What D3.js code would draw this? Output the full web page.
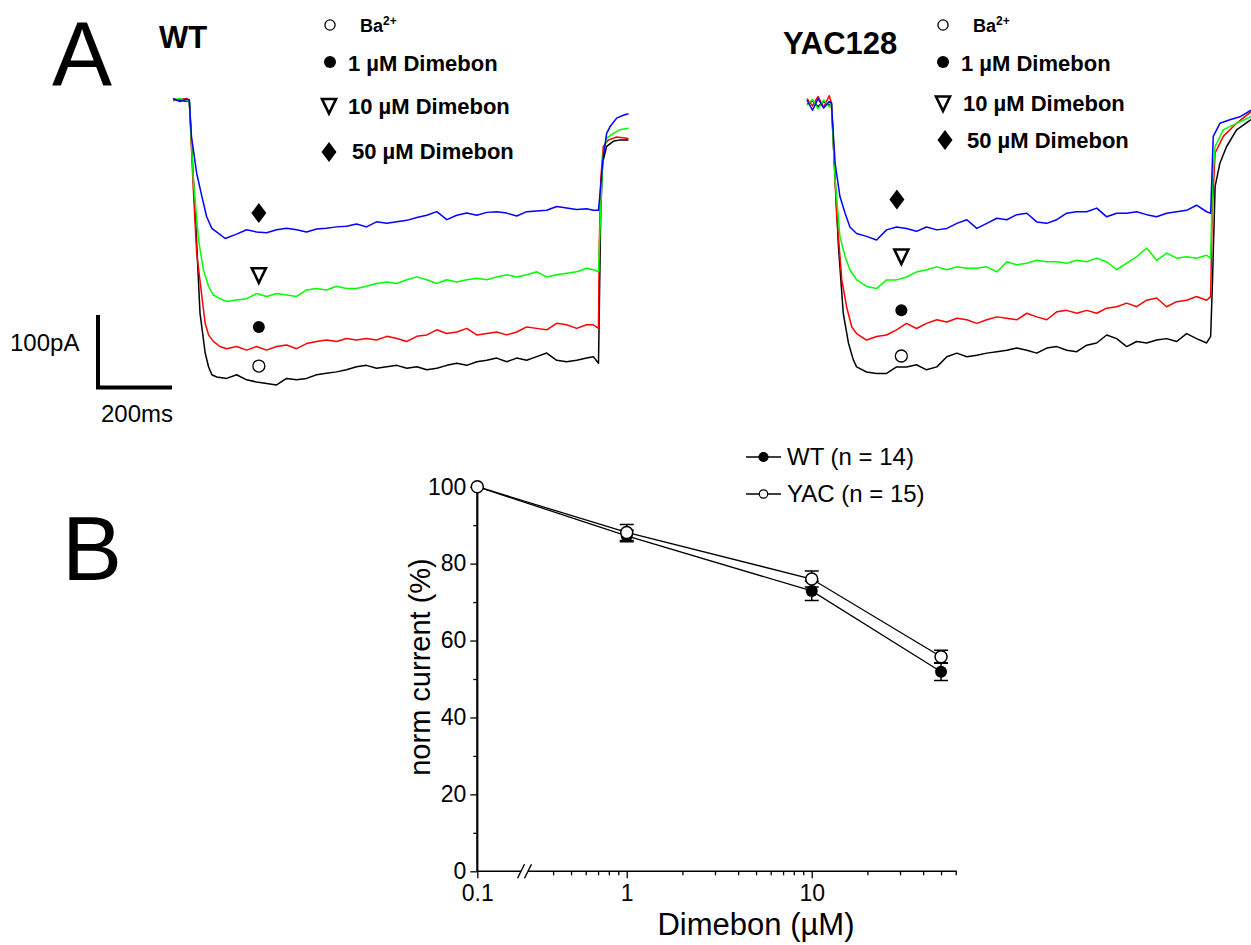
<!DOCTYPE html>
<html><head><meta charset="utf-8">
<script src="https://cdn.jsdelivr.net/npm/d3@7"></script>
<style>
body{margin:0;background:#fff;}
svg{display:block;font-family:"Liberation Sans",Arial,Helvetica,sans-serif;}
</style></head><body>
<svg id="fig" width="1251" height="945"></svg>
<script>
// ---------------- Panel A data (time in ms, current in pA, baseline = 0) ----------------
const wtPreT = [0, 19, 37, 44];
const wtGridT = [172,199,226,253,280,307,334,361,388,415,442,469,496,523,550,578,605,632,659,686,713,740,767,794,821,848,875,902,929,956,983,1010,1037,1064,1091,1118,1136,1150];

const wtBlueT = [...wtPreT, 50,64,78,91,105,123,141, ...wtGridT, 1154,1163,1172,1181,1199,1217,1231];
const wtBlueI = [2,-2,1,0, -51,-101,-133,-161,-177,-184,-191,
  -185,-179,-182,-183,-179,-177,-179,-182,-178,-177,-175,-174,-171,-175,-168,-170,-168,-166,-162,-159,-154,-165,-159,-156,-159,-155,-154,-156,-160,-154,-153,-152,-147,-149,-151,-150,-152,-152,
  -129,-78,-46,-37,-25,-21,-19];

const wtGreenT = [...wtPreT, 55,69,82,96,109,127,145, ...wtGridT, 1154,1159,1163,1172,1190,1208,1231];
const wtGreenI = [0,2,-1,0, -110,-193,-234,-257,-269,-274,-278,
  -276,-274,-267,-271,-267,-269,-271,-262,-260,-262,-257,-260,-260,-257,-253,-251,-253,-248,-244,-248,-253,-248,-251,-248,-246,-248,-244,-241,-244,-241,-237,-244,-241,-239,-237,-232,-234,-237,
  -179,-110,-74,-53,-46,-41,-39];

const wtRedT = [...wtPreT, 55,64,78,87,96,109,127,145, ...wtGridT, 1152,1156,1163,1177,1199,1231];
const wtRedI = [-1,1,2,0, -124,-211,-271,-308,-324,-333,-340,-343,
  -340,-345,-340,-345,-340,-338,-343,-336,-333,-331,-333,-329,-331,-329,-331,-326,-329,-333,-326,-324,-317,-322,-320,-315,-324,-322,-320,-324,-320,-313,-315,-317,-308,-310,-315,-310,-310,-315,
  -202,-110,-64,-55,-51,-53];

const wtBlackT = [...wtPreT, 60,73,87,96,105,118,145, ...wtGridT, 1152,1156,1161,1172,1190,1208,1231];
const wtBlackI = [1,0,-2,0, -156,-294,-349,-368,-379,-382,-384,
  -379,-386,-389,-391,-393,-384,-386,-384,-379,-377,-375,-372,-368,-366,-370,-368,-366,-370,-368,-372,-370,-366,-363,-366,-361,-359,-356,-361,-356,-359,-354,-349,-359,-361,-359,-356,-354,-363,
  -294,-156,-87,-64,-57,-55,-55];

const yacPreT = [0, 15, 30, 45, 60, 66];
const yacGridT = [134,161,188,215,242,269,296,323,351,378,405,432,459,486,513,540,567,594,621,648,675,702,729,756,783,810,837,864,891,918,945,972,999,1026,1053,1080,1091];

const yacBlueT = [...yacPreT, 76,89,103,116, ...yacGridT, 1094,1098,1116,1143,1170,1200];
const yacBlueI = [4,-10,6,-7,2,0, -83,-129,-152,-171,
  -180,-184,-189,-175,-171,-173,-177,-171,-175,-173,-166,-161,-173,-166,-159,-161,-154,-152,-164,-166,-161,-152,-150,-150,-145,-157,-152,-152,-150,-154,-157,-152,-150,-148,-141,-150,-152,
  -106,-46,-28,-23,-19,-10];

const yacGreenT = [...yacPreT, 76,89,103,116, ...yacGridT, 1096,1103,1125,1161,1200];
const yacGreenI = [-3,5,-8,4,-5,0, -106,-184,-212,-230,
  -244,-253,-256,-244,-244,-240,-233,-230,-226,-230,-226,-228,-228,-226,-233,-219,-223,-221,-217,-219,-219,-221,-217,-219,-214,-219,-230,-221,-212,-200,-217,-207,-214,-212,-214,-210,-214,
  -106,-60,-37,-28,-19];

const yacRedT = [...yacPreT, 80,94,107,121, ...yacGridT, 1095,1103,1125,1161,1200];
const yacRedI = [6,-4,9,-6,10,0, -152,-244,-281,-309,
  -318,-327,-322,-320,-313,-304,-311,-304,-299,-302,-297,-299,-304,-299,-295,-297,-299,-290,-295,-299,-288,-286,-290,-286,-290,-283,-281,-276,-281,-272,-269,-281,-274,-272,-267,-272,-267,
  -152,-69,-46,-28,-12];

const yacBlackT = [...yacPreT, 85,98,112,125, ...yacGridT, 1096,1103,1116,1134,1161,1200];
const yacBlackI = [-2,3,-5,2,-3,0, -198,-290,-331,-354,
  -364,-371,-373,-373,-364,-364,-361,-368,-364,-350,-345,-350,-348,-345,-343,-341,-338,-341,-345,-338,-336,-341,-343,-334,-331,-320,-325,-336,-329,-331,-327,-325,-329,-318,-325,-331,-322,
  -244,-115,-83,-60,-37,-23];

// condition labels / symbols (order: Ba, 1, 10, 50)
const conditionLabels = ["Ba", "1 µM Dimebon", "10 µM Dimebon", "50 µM Dimebon"];
const conditionSymbols = ["openCircle", "filledCircle", "triangle", "diamond"];
const wtMarkT = [232, 232, 232, 232];
const wtMarkI = [-367, -313, -241, -156];
const yacMarkT = [255, 255, 255, 243];
const yacMarkI = [-349, -286, -211, -133];

const scaleBarPA = 100;
const scaleBarMS = 200;

// ---------------- Panel B data ----------------
const conc = [0.1, 1, 10, 50];
const wtMean = [100, 87.2, 72.9, 51.9];
const wtErr = [0, 1.5, 2.5, 2.3];
const yacMean = [100, 88.1, 76.0, 55.8];
const yacErr = [0, 2.1, 2.1, 1.7];
const yTicksMajor = [0, 20, 40, 60, 80, 100];
const yTicksMinor = [10, 30, 50, 70, 90];
const xTicksMajor = [0.1, 1, 10];
const xTickLabels = ["0.1", "1", "10"];
const xTicksMinor = [0.4,0.5,0.6,0.7,0.8,0.9,2,3,4,5,6,7,8,9,20,30,40,50,60];
const seriesNames = ["WT (n = 14)", "YAC (n = 15)"];

// ---------------- Drawing ----------------
const svg = d3.select("#fig");
const pairs = (t, i) => t.map((d, k) => [d, i[k]]);

// scales for panel A
const wtX = d3.scaleLinear().domain([0, 1000]).range([173, 543]);
const wtY = d3.scaleLinear().domain([0, -100]).range([100, 172.5]);
const yacX = d3.scaleLinear().domain([0, 1000]).range([807, 1177]);
const yacY = d3.scaleLinear().domain([0, -100]).range([103, 175.5]);

function symbolPath(kind) {
  if (kind === "triangle") return "M-7,-6.5L7,-6.5L0,8Z";
  if (kind === "diamond") return "M0,-10L7.5,0L0,10L-7.5,0Z";
  return d3.symbol(d3.symbolCircle, 36 * Math.PI)();
}
function drawSymbol(g, kind, x, y, scale = 1) {
  const p = g.append("path").attr("d", symbolPath(kind))
    .attr("transform", `translate(${x},${y}) scale(${scale})`);
  if (kind === "openCircle") p.attr("fill", "#fff").attr("stroke", "#000").attr("stroke-width", 1.3 / scale);
  else if (kind === "triangle") p.attr("fill", "#fff").attr("stroke", "#000").attr("stroke-width", 2.6 / scale).attr("stroke-linejoin", "miter");
  else p.attr("fill", "#000");
  return p;
}

function drawTraces(xS, yS, traces) {
  const line = d3.line().x(d => xS(d[0])).y(d => yS(d[1]));
  const g = svg.append("g");
  traces.forEach(tr => {
    g.append("path").datum(pairs(tr.t, tr.i)).attr("d", line)
      .attr("fill", "none").attr("stroke", tr.c).attr("stroke-width", 1.5).attr("stroke-linejoin", "round");
  });
}
drawTraces(wtX, wtY, [
  {t: wtBlackT, i: wtBlackI, c: "#000000"},
  {t: wtRedT, i: wtRedI, c: "#ff0000"},
  {t: wtGreenT, i: wtGreenI, c: "#00ff00"},
  {t: wtBlueT, i: wtBlueI, c: "#0000ff"}
]);
drawTraces(yacX, yacY, [
  {t: yacBlackT, i: yacBlackI, c: "#000000"},
  {t: yacRedT, i: yacRedI, c: "#ff0000"},
  {t: yacGreenT, i: yacGreenI, c: "#00ff00"},
  {t: yacBlueT, i: yacBlueI, c: "#0000ff"}
]);

// trace markers
const mg = svg.append("g");
conditionSymbols.forEach((s, k) => {
  drawSymbol(mg, s, wtX(wtMarkT[k]), wtY(wtMarkI[k]));
  drawSymbol(mg, s, yacX(yacMarkT[k]), yacY(yacMarkI[k]));
});

// panel letters and titles
svg.append("text").attr("x", 52).attr("y", 85).attr("font-size", 90).text("A");
svg.append("text").attr("x", 62).attr("y", 580).attr("font-size", 90).text("B");
svg.append("text").attr("x", 159).attr("y", 48).attr("font-size", 31).attr("font-weight", "bold").text("WT");
svg.append("text").attr("x", 783).attr("y", 54).attr("font-size", 31).attr("font-weight", "bold").text("YAC128");

// legends panel A
function drawLegendA(mx, rowsY, textX, baseY) {
  const g = svg.append("g");
  conditionSymbols.forEach((s, k) => {
    drawSymbol(g, s, mx[k], rowsY[k], k === 0 ? 0.85 : 1);
    const t = g.append("text").attr("x", textX[k]).attr("y", baseY[k])
      .attr("font-weight", "bold").attr("font-size", k === 0 ? 18 : 22).text(conditionLabels[k]);
    if (k === 0) t.append("tspan").attr("font-size", 12).attr("dy", -7).text("2+");
  });
}
drawLegendA([330, 330, 329, 329], [25, 62, 105.5, 152], [360, 348, 348, 352], [31.5, 71, 114, 159]);
drawLegendA([943, 943, 943, 945], [25, 62, 103, 140], [973, 961, 963, 967], [31.5, 71, 111, 148]);

// scale bar
const sbx0 = 98, sby0 = 387.5;
const sbH = wtY(-scaleBarPA) - wtY(0);
const sbW = wtX(scaleBarMS) - wtX(0);
svg.append("path").attr("d", `M${sbx0},${sby0 - sbH}V${sby0}H${sbx0 + sbW}`)
  .attr("fill", "none").attr("stroke", "#000").attr("stroke-width", 4).attr("stroke-linecap", "butt");
svg.append("text").attr("x", 10).attr("y", 351).attr("font-size", 24).text(scaleBarPA + "pA");
svg.append("text").attr("x", 101).attr("y", 422).attr("font-size", 24).text(scaleBarMS + "ms");

// ---------------- Panel B ----------------
const bx = d3.scaleLog().domain([0.1, 0.3, 60]).range([477.3, 530, 955.7]);
const by = d3.scaleLinear().domain([0, 100]).range([871.3, 486.7]);
const axisFont = 23;

// y axis
const yAx = svg.append("g").attr("transform", `translate(${bx(0.1)},0)`);
yAx.call(d3.axisLeft(by).tickValues(yTicksMajor).tickSize(7).tickPadding(4).tickFormat(d3.format("d")));
yAx.select(".domain").attr("stroke-width", 2.2).attr("d", `M0,${by(100)}V${by(0)}`);
yAx.selectAll(".tick line").attr("stroke-width", 1.3);
yAx.selectAll("text").attr("font-size", axisFont).attr("font-family", null);
const yMin = svg.append("g").attr("transform", `translate(${bx(0.1)},0)`);
yMin.call(d3.axisLeft(by).tickValues(yTicksMinor).tickSize(4).tickFormat(""));
yMin.select(".domain").remove();
yMin.selectAll(".tick line").attr("stroke-width", 1.3);

// x axis
const xAx = svg.append("g").attr("transform", `translate(0,${by(0)})`);
xAx.call(d3.axisBottom(bx).tickValues(xTicksMajor).tickSize(7).tickPadding(6).tickFormat((d, k) => xTickLabels[k]));
xAx.select(".domain").remove();
xAx.selectAll(".tick line").attr("stroke-width", 1.3);
xAx.selectAll("text").attr("font-size", axisFont).attr("font-family", null);
const xMin = svg.append("g").attr("transform", `translate(0,${by(0)})`);
xMin.call(d3.axisBottom(bx).tickValues(xTicksMinor).tickSize(4).tickFormat(""));
xMin.select(".domain").remove();
xMin.selectAll(".tick line").attr("stroke-width", 1.3);
// axis line with break
const brk1 = 521, brk2 = 528, y0 = by(0);
svg.append("path").attr("d", `M${bx(0.1)},${y0}H${brk1}M${brk2},${y0}H${bx(60) + 1}`)
  .attr("stroke", "#000").attr("stroke-width", 1.4).attr("fill", "none");
svg.append("path").attr("d", `M${brk1 - 3.5},${y0 + 7}L${brk1 + 3.5},${y0 - 7}M${brk2 - 3.5},${y0 + 7}L${brk2 + 3.5},${y0 - 7}`)
  .attr("stroke", "#000").attr("stroke-width", 1.4).attr("fill", "none");

// axis titles
svg.append("text").attr("x", 756).attr("y", 935).attr("text-anchor", "middle").attr("font-size", 31).text("Dimebon (µM)");
svg.append("text").attr("transform", `translate(430,667) rotate(-90)`).attr("text-anchor", "middle").attr("font-size", 29).text("norm current (%)");

// series lines
const bl = d3.line().x((d, k) => bx(conc[k])).y(d => by(d));
const pg = svg.append("g");
[wtMean, yacMean].forEach(m => {
  pg.append("path").datum(m).attr("d", bl).attr("fill", "none").attr("stroke", "#000").attr("stroke-width", 1.3);
});
// error bars
[[wtMean, wtErr], [yacMean, yacErr]].forEach(([m, e]) => {
  m.forEach((v, k) => {
    if (!e[k]) return;
    const x = bx(conc[k]), yt = by(v + e[k]), yb = by(v - e[k]);
    pg.append("path").attr("d", `M${x},${yt}V${yb}M${x - 7},${yt}H${x + 7}M${x - 7},${yb}H${x + 7}`)
      .attr("stroke", "#000").attr("stroke-width", 1.5).attr("fill", "none");
  });
});
// markers
wtMean.forEach((v, k) => pg.append("circle").attr("cx", bx(conc[k])).attr("cy", by(v)).attr("r", 6).attr("fill", "#000"));
yacMean.forEach((v, k) => pg.append("circle").attr("cx", bx(conc[k])).attr("cy", by(v)).attr("r", 6).attr("fill", "#fff").attr("stroke", "#000").attr("stroke-width", 1.5));

// legend panel B
const lg = svg.append("g");
[[457, true], [494, false]].forEach(([yy, filled], k) => {
  lg.append("path").attr("d", `M746,${yy}H781`).attr("stroke", "#000").attr("stroke-width", 1.3);
  lg.append("circle").attr("cx", 763.5).attr("cy", yy).attr("r", filled ? 4.5 : 4.2)
    .attr("fill", filled ? "#000" : "#fff").attr("stroke", "#000").attr("stroke-width", 1.2);
  lg.append("text").attr("x", 787).attr("y", yy + 8).attr("font-size", 24).text(seriesNames[k]);
});
</script>
</body></html>
